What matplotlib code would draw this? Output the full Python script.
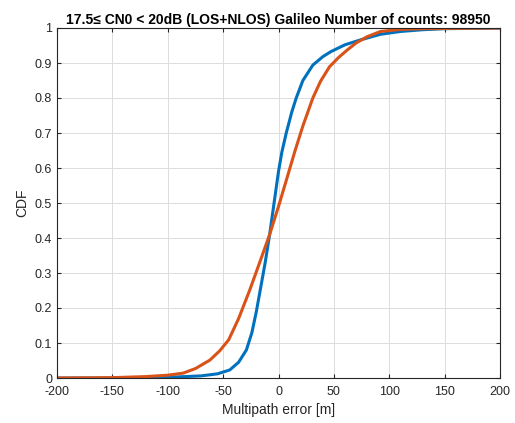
import matplotlib
matplotlib.use("Agg")
import matplotlib.pyplot as plt

plt.rcParams['font.family'] = ['Liberation Sans', 'DejaVu Sans']
plt.rcParams['axes.unicode_minus'] = False

# Blue series (CDF)
blue_x = [-200, -150, -100, -70, -55, -44, -36, -29, -24, -20, -16, -12, -8, -4, 0, 3, 7, 12, 16, 22, 31, 40, 47, 60, 74, 92, 110, 130, 150, 200]
blue_y = [0.0, 0.0, 0.002, 0.006, 0.012, 0.023, 0.045, 0.08, 0.13, 0.19, 0.26, 0.33, 0.41, 0.50, 0.59, 0.645, 0.70, 0.76, 0.80, 0.85, 0.894, 0.918, 0.932, 0.952, 0.966, 0.982, 0.99, 0.995, 0.998, 1.0]

# Orange series (CDF)
orange_x = [-200, -150, -120, -100, -86, -75, -62, -53, -45, -36, -26, -17, -8, 0, 8, 15, 22, 31, 38, 46, 54, 62, 70, 80, 92, 110, 130, 160, 200]
orange_y = [0.0, 0.001, 0.004, 0.008, 0.014, 0.027, 0.051, 0.078, 0.109, 0.17, 0.251, 0.33, 0.41, 0.49, 0.575, 0.65, 0.72, 0.80, 0.848, 0.889, 0.915, 0.937, 0.957, 0.975, 0.99, 0.996, 0.998, 0.999, 1.0]

title = "17.5\u2264 CN0 < 20dB (LOS+NLOS) Galileo Number of counts: 98950"
xticks = [-200, -150, -100, -50, 0, 50, 100, 150, 200]
yticks = [0, 0.1, 0.2, 0.3, 0.4, 0.5, 0.6, 0.7, 0.8, 0.9, 1]
ytick_labels = ["0", "0.1", "0.2", "0.3", "0.4", "0.5", "0.6", "0.7", "0.8", "0.9", "1"]

fig = plt.figure(figsize=(5.15, 4.23), dpi=100)
ax = fig.add_axes([57/515, 45/423, 443/515, 350/423])

ax.plot(blue_x, blue_y, color='#0072BD', lw=2.2)
ax.plot(orange_x, orange_y, color='#D95319', lw=2.2)

ax.set_xlim(-200, 200)
ax.set_ylim(0, 1)
ax.set_xticks(xticks)
ax.set_yticks(yticks)
ax.set_yticklabels(ytick_labels)
ax.grid(True, color='#dcdcdc', lw=0.7)
ax.set_axisbelow(True)
ax.tick_params(direction='in', top=True, right=True, labelsize=9, colors='#262626', length=3)
ax.tick_params(axis='x', pad=6)
for s in ax.spines.values():
    s.set_color('#262626')
    s.set_linewidth(0.8)
ax.set_xlabel("Multipath error [m]", fontsize=10, color='#262626', labelpad=3)
ax.set_ylabel("CDF", fontsize=10, color='#262626')
ax.set_title(title, fontsize=10, fontweight='bold', pad=3)

fig.savefig("out.png", dpi=100)
